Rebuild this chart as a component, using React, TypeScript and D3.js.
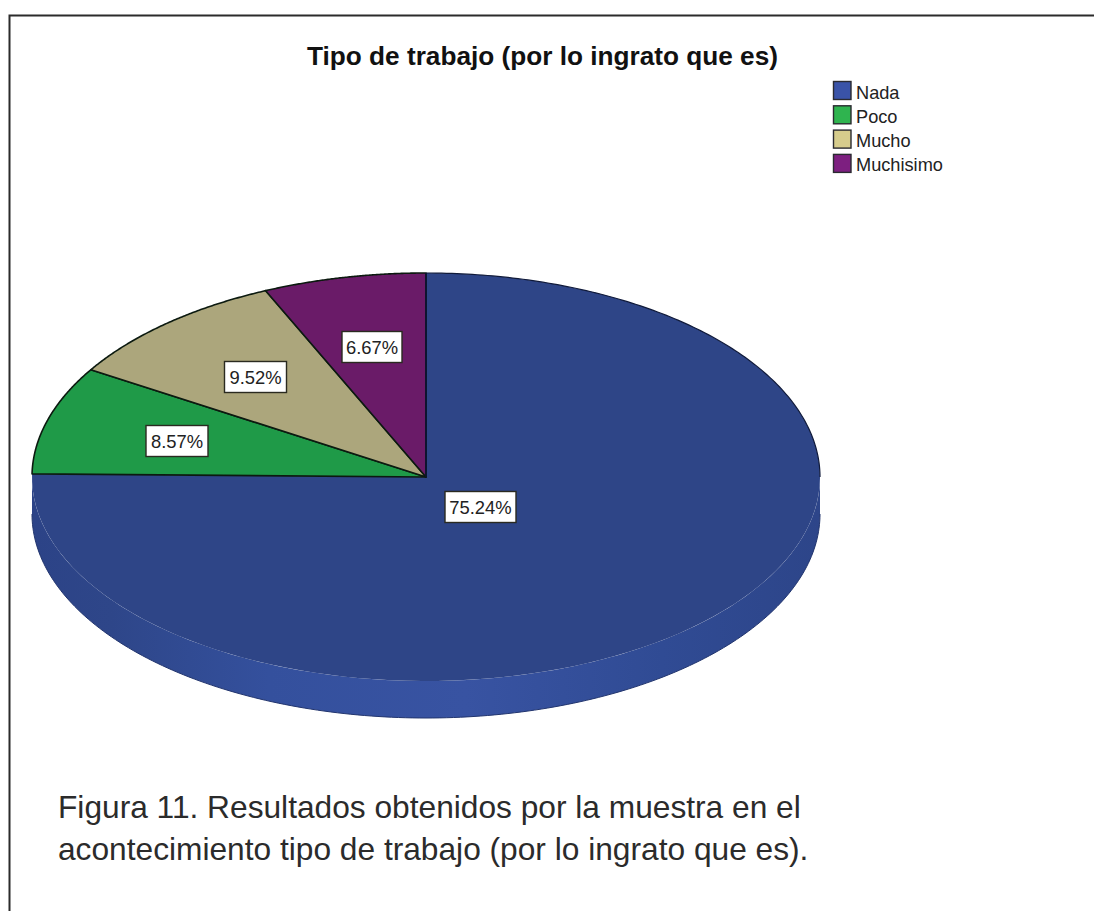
import React from "react";
import * as d3 from "d3";

const categories = ["Nada", "Poco", "Mucho", "Muchisimo"];
const percentages = [75.24, 8.57, 9.52, 6.67];
const topColors = ["#2e4587", "#1f9a48", "#aca67c", "#6a1b68"];
const legendColors = ["#3a53a8", "#2fb44f", "#d6cc8c", "#7d1f80"];
const titleText = "Tipo de trabajo (por lo ingrato que es)";
const captionLines = [
  "Figura 11. Resultados obtenidos por la muestra en el",
  "acontecimiento tipo de trabajo (por lo ingrato que es).",
];
const labelCentres = [
  { x: 480.5, y: 507, w: 71 },
  { x: 177, y: 441, w: 62 },
  { x: 255.5, y: 377, w: 62 },
  { x: 372, y: 347, w: 60 },
];

const WIDTH = 1094;
const HEIGHT = 911;
const CX = 426;
const CY = 477;
const RX = 394;
const RY = 204;
const DEPTH = 37;

// Unit circle coordinates mapped onto the flattened ellipse of the pie.
const xScale = d3.scaleLinear().domain([-1, 1]).range([CX - RX, CX + RX]);
const yScale = d3.scaleLinear().domain([-1, 1]).range([CY - RY, CY + RY]);

const arcs = d3
  .pie<number>()
  .sort(null)
  .value((d) => d)(percentages);

const rimPoint = (a: number): [number, number] => [xScale(Math.sin(a)), yScale(-Math.cos(a))];

function rimAngles(startAngle: number, endAngle: number, count = 120): number[] {
  return d3.range(0, count + 1).map((i) => startAngle + ((endAngle - startAngle) * i) / count);
}

function wedgePath(startAngle: number, endAngle: number): string {
  const rim = rimAngles(startAngle, endAngle).map(rimPoint);
  return `M${xScale(0)},${yScale(0)}L` + rim.map((p) => p.join(",")).join("L") + "Z";
}

const rimLine = d3.line<[number, number]>();

// Visible outer wall: the front half of the rim swept downward by the depth.
const frontAngles = rimAngles(Math.PI / 2, (3 * Math.PI) / 2, 180);
const wallArea = d3
  .area<number>()
  .x((a) => rimPoint(a)[0])
  .y0((a) => rimPoint(a)[1])
  .y1((a) => rimPoint(a)[1] + DEPTH)(frontAngles) as string;
const wallBottom = rimLine(frontAngles.map((a) => [rimPoint(a)[0], rimPoint(a)[1] + DEPTH])) as string;
const backRightRim = rimLine(rimAngles(0, Math.PI / 2).map(rimPoint)) as string;

const sans = "'Liberation Sans', Arial, sans-serif";

export default function App() {
  return (
    <svg
      width={WIDTH}
      height={HEIGHT}
      viewBox={`0 0 ${WIDTH} ${HEIGHT}`}
      style={{ position: "fixed", left: 0, top: 0, background: "#fff" }}
    >
      <defs>
        <linearGradient id="wallShade" x1="0" x2="1" y1="0" y2="0">
          <stop offset="0" stopColor="#2c4387" />
          <stop offset="0.1" stopColor="#2e4689" />
          <stop offset="0.3" stopColor="#34509d" />
          <stop offset="0.55" stopColor="#3853a2" />
          <stop offset="0.8" stopColor="#304b94" />
          <stop offset="1" stopColor="#2d4589" />
        </linearGradient>
      </defs>

      <path d={`M9.5,911V15.5H${WIDTH}`} fill="none" stroke="#2b2b2b" strokeWidth={2} />

      <text x={542.5} y={65} textAnchor="middle" fontFamily={sans} fontWeight={700} fontSize={26.2} fill="#111">
        {titleText}
      </text>

      <path d={wallArea} fill="url(#wallShade)" />
      <path d={wallBottom} fill="none" stroke="#22356e" strokeWidth={1} />

      {arcs.map((a, i) => (
        <path
          key={categories[i]}
          d={wedgePath(a.startAngle, a.endAngle)}
          fill={topColors[i]}
          stroke={i === 0 ? "none" : "#0c1a10"}
          strokeWidth={1.6}
          strokeLinejoin="round"
        />
      ))}
      <path d={backRightRim} fill="none" stroke="#101a3a" strokeWidth={1.2} />
      <path d={`M${xScale(0)},${yScale(-1)}V${yScale(0)}`} fill="none" stroke="#0c1233" strokeWidth={1.6} />

      {percentages.map((value, i) => {
        const c = labelCentres[i];
        return (
          <g key={`label-${categories[i]}`}>
            <rect x={c.x - c.w / 2} y={c.y - 15.5} width={c.w} height={31} fill="#fff" stroke="#2a2a20" strokeWidth={1.4} />
            <text x={c.x} y={c.y + 6.5} textAnchor="middle" fontFamily={sans} fontSize={18.4} fill="#222">
              {value.toFixed(2)}%
            </text>
          </g>
        );
      })}

      {categories.map((name, i) => (
        <g key={`legend-${name}`}>
          <rect x={833.5} y={81.5 + i * 24.3} width={17.5} height={18} fill={legendColors[i]} stroke="#2a2a30" strokeWidth={1.4} />
          <text x={856} y={98.5 + i * 24.3} fontFamily={sans} fontSize={18.2} fill="#222">
            {name}
          </text>
        </g>
      ))}

      {captionLines.map((line, i) => (
        <text key={line} x={58} y={818 + i * 42} fontFamily={sans} fontSize={31.7} fill="#2b2b2b">
          {line}
        </text>
      ))}
    </svg>
  );
}
